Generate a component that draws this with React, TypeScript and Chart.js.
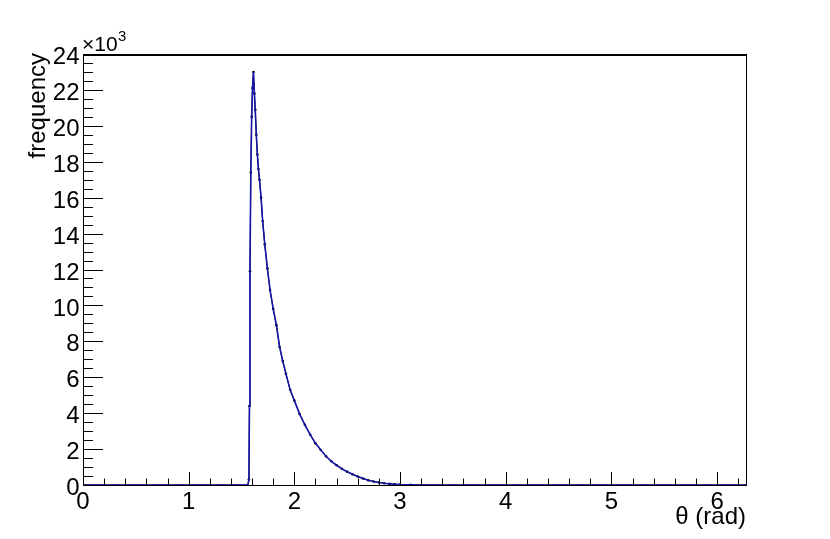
import React, { useEffect, useRef } from "react";
import { Chart, registerables } from "chart.js";

Chart.register(...registerables);

// theta (rad) sample positions
const THETA = [
  0, 1.56, 1.57, 1.575, 1.58, 1.588, 1.596, 1.604, 1.613, 1.622, 1.63, 1.64, 1.65,
  1.66, 1.67, 1.685, 1.7, 1.72, 1.745, 1.77, 1.8, 1.83, 1.86, 1.89, 1.92, 1.96,
  2.0, 2.05, 2.1, 2.15, 2.2, 2.25, 2.3, 2.35, 2.4, 2.45, 2.5, 2.55, 2.6, 2.65,
  2.7, 2.75, 2.8, 2.85, 2.9, 2.95, 3.0, 3.1, 3.2, 6.283,
];
// frequency values (counts)
const COUNTS = [
  0, 0, 300, 4400, 11900, 17400, 20500, 22100, 23000, 21800, 20900, 19500, 18400,
  17600, 17000, 16000, 14700, 13400, 12050, 10860, 9800, 8900, 7700, 6900, 6200,
  5300, 4700, 3950, 3350, 2800, 2320, 1950, 1600, 1320, 1100, 900, 740, 600, 470,
  360, 260, 190, 140, 100, 60, 40, 20, 10, 0, 0,
];
const X_TICKS = [0, 1, 2, 3, 4, 5, 6];
const Y_TICKS = [0, 2000, 4000, 6000, 8000, 10000, 12000, 14000, 16000, 18000, 20000, 22000, 24000];
const X_MINOR_STEP = 0.2;
const Y_MINOR_STEP = 500;
const X_MAX = 2 * Math.PI;
const Y_MAX = 24000;

const FONT = "'Liberation Sans', Arial, Helvetica, sans-serif";

const framePlugin = {
  id: "rootFrame",
  afterDraw(chart: any) {
    const { ctx, chartArea } = chart;
    const { left, right, top, bottom } = chartArea;
    const xs = chart.scales.x;
    const ys = chart.scales.y;
    ctx.save();
    ctx.strokeStyle = "#000";
    ctx.lineWidth = 1;
    ctx.beginPath();
    // x ticks (inward)
    for (let v = 0; v <= X_MAX + 1e-9; v += X_MINOR_STEP) {
      const r = Math.round(v * 1000) / 1000;
      const major = Math.abs(r - Math.round(r)) < 1e-6;
      const px = Math.round(xs.getPixelForValue(r)) + 0.5;
      const len = major ? 13 : 6.5;
      ctx.moveTo(px, bottom);
      ctx.lineTo(px, bottom - len);
    }
    // y ticks (inward)
    for (let v = 0; v <= Y_MAX + 1e-9; v += Y_MINOR_STEP) {
      const major = v % 2000 === 0;
      const py = Math.round(ys.getPixelForValue(v)) + 0.5;
      const len = major ? 20 : 10;
      ctx.moveTo(left, py);
      ctx.lineTo(left + len, py);
    }
    ctx.stroke();
    // frame
    ctx.strokeRect(left + 0.5, top + 0.5, right - left - 1, bottom - top);
    ctx.beginPath();
    ctx.lineWidth = 1;
    ctx.moveTo(left, top + 1.5);
    ctx.lineTo(right, top + 1.5);
    ctx.stroke();
    // titles
    ctx.fillStyle = "#000";
    ctx.font = `24px ${FONT}`;
    ctx.textBaseline = "alphabetic";
    ctx.textAlign = "right";
    ctx.fillText("θ (rad)", right - 1, 524);
    ctx.save();
    ctx.translate(45, top - 1);
    ctx.rotate(-Math.PI / 2);
    ctx.textAlign = "right";
    ctx.fillText("frequency", 0, 0);
    ctx.restore();
    ctx.textAlign = "left";
    ctx.font = `21px ${FONT}`;
    ctx.fillText("×10", left - 1, 51);
    const w = ctx.measureText("×10").width;
    ctx.font = `15px ${FONT}`;
    ctx.fillText("3", left - 1 + w + 0.5, 41);
    ctx.restore();
  },
};

export default function App() {
  const ref = useRef<HTMLCanvasElement | null>(null);
  useEffect(() => {
    if (!ref.current) return;
    const pts = THETA.map((t, i) => ({ x: t, y: COUNTS[i] }));
    const chart = new Chart(ref.current, {
      type: "line",
      data: {
        datasets: [
          {
            label: "fit",
            data: pts,
            borderColor: "#1515a8",
            borderWidth: 1.6,
            pointRadius: 0,
            tension: 0,
            order: 1,
          },
          {
            label: "data",
            data: pts,
            borderColor: "#000",
            borderWidth: 1,
            pointBackgroundColor: "#000",
            pointBorderWidth: 0,
            pointRadius: (c: any) => (c.raw && c.raw.y > 0 ? 1.3 : 0),
            showLine: true,
            tension: 0,
            order: 2,
          },
        ],
      },
      options: {
        animation: false,
        responsive: false,
        layout: { padding: { left: 0, right: 83, top: 54, bottom: 0 } },
        plugins: { legend: { display: false }, tooltip: { enabled: false }, title: { display: false } },
        scales: {
          x: {
            type: "linear",
            min: 0,
            max: X_MAX,
            grid: { display: false, drawTicks: false },
            border: { display: false },
            afterBuildTicks: (s: any) => {
              s.ticks = X_TICKS.map((v) => ({ value: v }));
            },
            afterFit: (s: any) => {
              s.height = 54;
            },
            ticks: {
              autoSkip: false,
              maxRotation: 0,
              padding: 3,
              color: "#000",
              font: { family: FONT, size: 24 },
              callback: (v: any) => String(v),
            },
          },
          y: {
            type: "linear",
            min: 0,
            max: Y_MAX,
            grid: { display: false, drawTicks: false },
            border: { display: false },
            afterBuildTicks: (s: any) => {
              s.ticks = Y_TICKS.map((v) => ({ value: v }));
            },
            afterFit: (s: any) => {
              s.width = 83;
            },
            ticks: {
              autoSkip: false,
              padding: 3.5,
              labelOffset: 3.5,
              color: "#000",
              font: { family: FONT, size: 24 },
              callback: (v: any) => String(Number(v) / 1000),
            },
          },
        },
      },
      plugins: [framePlugin],
    });
    return () => chart.destroy();
  }, []);
  return (
    <div style={{ position: "absolute", left: 0, top: 0, width: 830, height: 539, background: "#fff" }}>
      <canvas ref={ref} width={830} height={539} style={{ width: 830, height: 539, display: "block" }} />
    </div>
  );
}
